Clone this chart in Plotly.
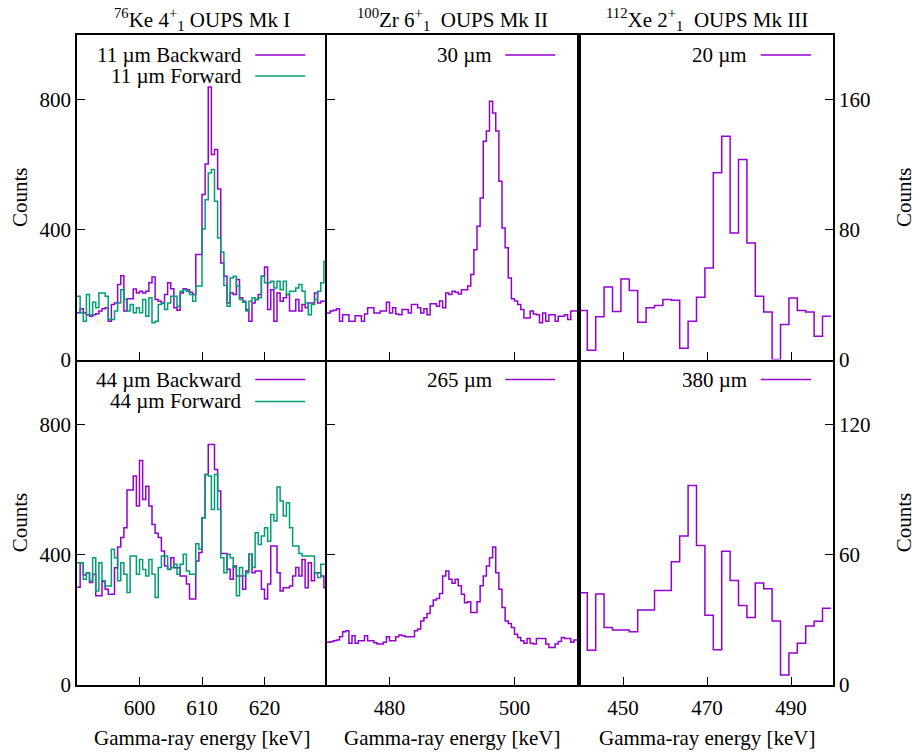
import numpy as np
import plotly.graph_objects as go

# ---------------- data ----------------
ke_energy = 590.25 + 0.5 * np.arange(80)          # keV, bin centres, 0.5 keV bins
ke_11um_backward = [144, 156, 144, 138, 133, 138, 141, 149, 156, 159,
                    118, 169, 174, 231, 258, 149, 187, 187, 217, 205,
                    210, 205, 210, 236, 254, 185, 179, 174, 200, 236,
                    218, 159, 152, 205, 218, 215, 207, 200, 323, 323,
                    508, 602, 839, 631, 646, 525, 297, 256, 174, 205,
                    200, 246, 190, 179, 154, 118, 174, 185, 200, 256,
                    285, 154, 215, 118, 205, 179, 190, 200, 149, 149,
                    185, 149, 169, 159, 174, 174, 205, 174, 179, 179]
ke_11um_forward = [195, 144, 118, 200, 138, 176, 159, 205, 205, 195,
                   123, 123, 149, 174, 215, 185, 149, 169, 144, 159,
                   144, 185, 133, 190, 113, 118, 169, 174, 154, 174,
                   195, 195, 164, 210, 215, 210, 200, 179, 226, 226,
                   402, 492, 574, 585, 487, 374, 331, 228, 164, 251,
                   256, 226, 185, 176, 149, 179, 190, 185, 190, 256,
                   236, 236, 241, 220, 241, 215, 241, 200, 210, 210,
                   220, 231, 210, 174, 138, 169, 185, 210, 236, 302]
ke_44um_backward = [300, 376, 338, 345, 315, 340, 274, 274, 318, 294,
                    279, 279, 360, 424, 453, 483, 599, 599, 642, 550,
                    690, 570, 611, 550, 493, 466, 453, 412, 366, 356,
                    391, 360, 360, 335, 335, 310, 264, 264, 381, 407,
                    514, 647, 739, 739, 662, 596, 404, 404, 356, 325,
                    366, 335, 335, 294, 350, 402, 345, 350, 350, 294,
                    264, 310, 427, 427, 345, 289, 299, 299, 304, 335,
                    361, 335, 386, 299, 376, 320, 345, 345, 335, 299]
ke_44um_forward = [376, 376, 325, 345, 320, 391, 289, 376, 320, 304,
                   304, 417, 391, 320, 376, 340, 284, 396, 396, 340,
                   386, 355, 335, 386, 340, 269, 361, 396, 396, 355,
                   361, 371, 340, 371, 402, 350, 340, 340, 434, 417,
                   514, 647, 642, 539, 647, 539, 391, 345, 402, 391,
                   361, 274, 361, 335, 345, 402, 361, 468, 432, 458,
                   483, 442, 524, 504, 608, 565, 519, 560, 483, 427,
                   427, 404, 396, 396, 396, 396, 345, 330, 371, 371]

zr_energy = 470.25 + 0.5 * np.arange(80)           # keV, bin centres, 0.5 keV bins
zr_30um = [143, 149, 152, 156, 118, 138, 138, 118, 118, 135,
           135, 118, 140, 159, 159, 143, 143, 149, 149, 176,
           143, 159, 140, 138, 154, 154, 143, 169, 169, 159,
           143, 156, 138, 172, 172, 164, 180, 159, 205, 200,
           210, 207, 202, 215, 215, 226, 262, 338, 410, 497,
           672, 703, 795, 759, 703, 549, 405, 344, 251, 187,
           180, 169, 154, 128, 128, 149, 140, 138, 113, 143,
           118, 138, 138, 118, 133, 133, 138, 123, 149, 149]
zr_265um = [131, 133, 136, 138, 148, 164, 167, 128, 151, 128,
            136, 136, 151, 136, 136, 130, 126, 126, 131, 148,
            136, 136, 148, 154, 151, 148, 148, 148, 167, 172,
            197, 207, 220, 243, 261, 266, 281, 335, 350, 325,
            313, 325, 305, 279, 253, 256, 223, 223, 256, 305,
            335, 366, 391, 424, 345, 294, 238, 197, 189, 177,
            156, 146, 136, 128, 143, 128, 126, 143, 143, 143,
            126, 115, 115, 126, 134, 146, 143, 143, 131, 138]

xe_energy = 440.5 + 2.0 * np.arange(30)            # keV, bin centres, 2 keV bins
xe_20um = [30.2, 5.7, 26.3, 44.7, 29.5, 49.6, 42.5, 23.0, 31.8, 33.2,
           36.9, 36.5, 7.0, 23.6, 38.4, 56.4, 114.9, 137.4, 77.9, 123.1,
           71.8, 39.0, 29.3, 0.0, 21.5, 37.9, 30.2, 29.3, 14.4, 26.7]
xe_380um = [42.5, 16.0, 42.0, 26.5, 25.3, 25.3, 24.6, 34.6, 34.6, 43.6,
            43.6, 56.8, 68.7, 91.9, 64.3, 32.1, 16.2, 61.7, 48.2, 36.6,
            31.1, 47.0, 44.4, 29.5, 4.6, 14.8, 19.3, 27.2, 29.4, 35.4]

panel_titles = ["<sup>76</sup>Ke 4<sup>+</sup><sub>1</sub> OUPS Mk I",
                "<sup>100</sup>Zr 6<sup>+</sup><sub>1</sub>  OUPS Mk II",
                "<sup>112</sup>Xe 2<sup>+</sup><sub>1</sub>  OUPS Mk III"]
x_ranges = [[590, 630], [470, 510], [440, 500]]
x_ticks = [[600, 610, 620], [480, 500], [450, 470, 490]]
y_ranges = [[0, 1000], [0, 1000], [0, 200], [0, 1000], [0, 1000], [0, 150]]
y_ticks = [[0, 400, 800], [0, 400, 800], [0, 80, 160], [0, 400, 800], [0, 400, 800], [0, 60, 120]]
x_title = "Gamma-ray energy [keV]"
y_title = "Counts"

PURPLE = "#9400d3"
GREEN = "#009e73"
FONT = "Liberation Serif"
FS = 21

# page layout: 8 px body margin; the photographed page is slightly compressed vertically
OFF = 8
SY = 0.9856
W, H = 904, 750


def px_x(px):
    return (px - OFF) / W


def px_y(py):
    return 1 - (py / SY - OFF) / H


def steps(centres, values):
    c = np.asarray(centres, dtype=float)
    w = c[1] - c[0]
    edges = np.concatenate([c - w / 2, [c[-1] + w / 2]])
    return edges, list(values) + [values[-1]]


panels = [
    [("11 µm Backward", ke_energy, ke_11um_backward, PURPLE),
     ("11 µm Forward", ke_energy, ke_11um_forward, GREEN)],
    [("30 µm", zr_energy, zr_30um, PURPLE)],
    [("20 µm", xe_energy, xe_20um, PURPLE)],
    [("44 µm Backward", ke_energy, ke_44um_backward, PURPLE),
     ("44 µm Forward", ke_energy, ke_44um_forward, GREEN)],
    [("265 µm", zr_energy, zr_265um, PURPLE)],
    [("380 µm", xe_energy, xe_380um, PURPLE)],
]

# panel frames in picture pixels (as in the reference)
col_px = [(77, 327), (327, 577), (581, 833)]
row_px = [(34.5, 360), (360, 686)]
legend_py = [[55, 76], [380, 402]]

fig = go.Figure()
layout = dict(width=W, height=H, margin=dict(l=0, r=0, t=0, b=0),
              plot_bgcolor="white", paper_bgcolor="white", showlegend=False,
              font=dict(family=FONT, size=FS, color="black"))
annotations = []
shapes = []
tfont = dict(family=FONT, size=FS, color="black")
LW = 1.6

for p in range(6):
    row, col = divmod(p, 3)
    ax = "" if p == 0 else str(p + 1)
    xd = [px_x(col_px[col][0]), px_x(col_px[col][1])]
    yd = [px_y(row_px[row][1]), px_y(row_px[row][0])]
    xa = dict(domain=xd, range=x_ranges[col], tickvals=x_ticks[col], ticks="inside",
              ticklen=8, tickwidth=1.2, tickcolor="black", showline=True, linewidth=LW,
              linecolor="black", mirror=(row == 0), showgrid=False, zeroline=False,
              showticklabels=(row == 1), anchor="y" + ax, ticklabelstandoff=3,
              tickfont=tfont)
    ya = dict(domain=yd, range=y_ranges[p], tickvals=y_ticks[p], ticks="inside",
              ticklen=8, tickwidth=1.2, tickcolor="black", showline=True, linewidth=LW,
              linecolor="black", showgrid=False, zeroline=False, anchor="x" + ax,
              tickfont=tfont)
    if col == 0:
        ya.update(mirror=False, showticklabels=True)
    elif col == 1:
        ya.update(mirror=True, showticklabels=False)
    else:
        ya.update(mirror=True, showticklabels=True, side="right")
    layout["xaxis" + ax] = xa
    layout["yaxis" + ax] = ya

    if col == 0:
        # inward ticks on the right edge of the left panels (line drawn by the middle panel)
        extra = str(7 + row)
        layout["yaxis" + extra] = dict(overlaying="y" + ax, side="right", anchor="x" + ax,
                                       range=y_ranges[p], tickvals=y_ticks[p], ticks="inside",
                                       ticklen=8, tickwidth=1.2, tickcolor="black",
                                       showline=False, showgrid=False, zeroline=False,
                                       showticklabels=False)

    for k, (name, e, v, colr) in enumerate(panels[p]):
        xs, ys = steps(e, v)
        fig.add_trace(go.Scatter(x=xs, y=ys, mode="lines", line_shape="hv", name=name,
                                 line=dict(color=colr, width=1.5),
                                 xaxis="x" + ax, yaxis="y" + ax, hoverinfo="skip"))
        ly = px_y(legend_py[row][k])
        annotations.append(dict(text=name, x=0.666, y=ly, xref="x" + ax + " domain",
                                yref="paper", xanchor="right", yanchor="middle",
                                showarrow=False, font=tfont))
        shapes.append(dict(type="line", x0=0.713, x1=0.913, y0=ly, y1=ly,
                           xref="x" + ax + " domain", yref="paper",
                           line=dict(color=colr, width=1.5)))

for col in range(3):
    cx = px_x((col_px[col][0] + col_px[col][1]) / 2)
    annotations.append(dict(text=panel_titles[col], x=cx, y=px_y(19), xref="paper", yref="paper",
                            xanchor="center", yanchor="middle", showarrow=False, font=tfont))
    annotations.append(dict(text=x_title, x=cx, y=px_y(739), xref="paper", yref="paper",
                            xanchor="center", yanchor="middle", showarrow=False, font=tfont))

for row in range(2):
    cy = px_y((row_px[row][0] + row_px[row][1]) / 2)
    for xp in (20, 904):
        annotations.append(dict(text=y_title, x=px_x(xp), y=cy, xref="paper", yref="paper",
                                xanchor="center", yanchor="middle", textangle=-90,
                                showarrow=False, font=tfont))

layout["annotations"] = annotations
layout["shapes"] = shapes
fig.update_layout(**layout)
fig.write_html("out.html")
